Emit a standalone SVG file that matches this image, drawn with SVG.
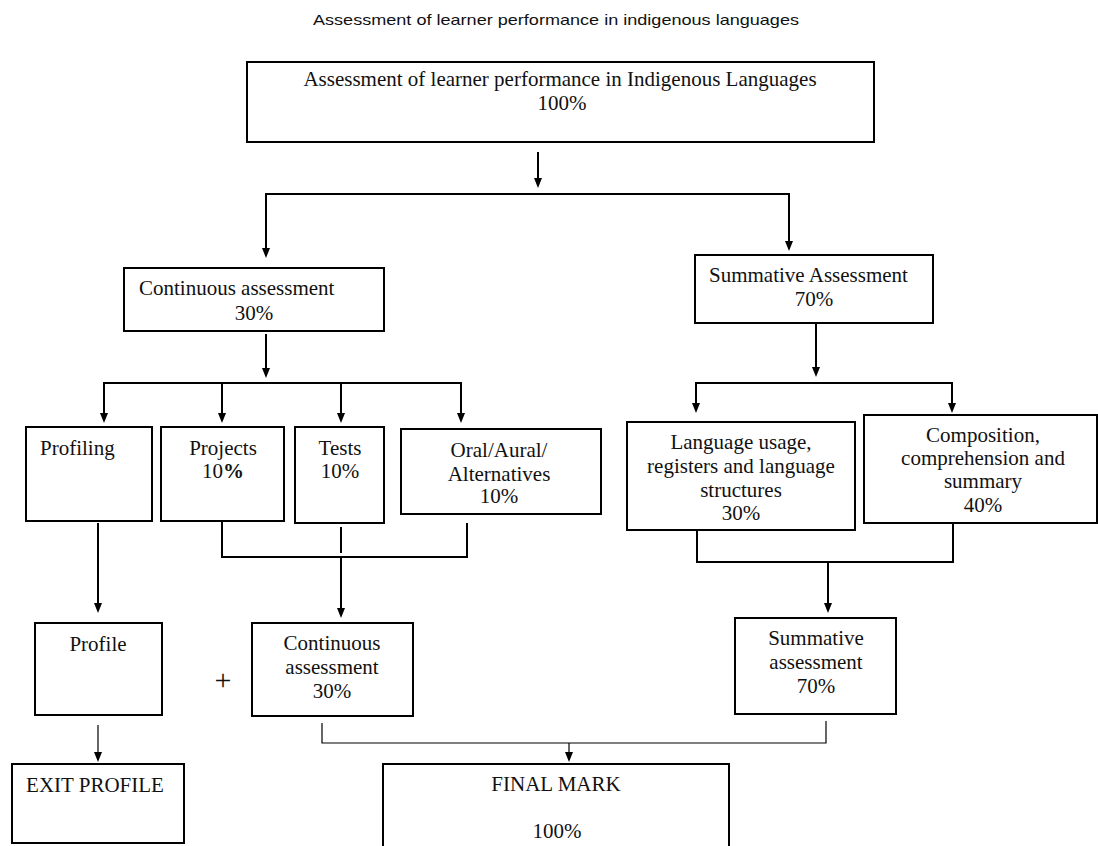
<svg xmlns="http://www.w3.org/2000/svg" width="1098" height="846" viewBox="0 0 1098 846">
<style>
.box{fill:#fff;stroke:#000;stroke-width:2}
.t{font-family:"Liberation Serif","Times New Roman",serif;font-size:21px;fill:#111}
.c{text-anchor:middle}
.ln{fill:none;stroke:#000;stroke-width:2}
.thin{fill:none;stroke:#000;stroke-width:1.2}
.title{font-family:"Liberation Sans",Arial,sans-serif;font-size:15px;fill:#111;text-anchor:middle}
</style>
<defs>
<marker id="ah" viewBox="0 0 10 8" refX="4" refY="4" markerWidth="10" markerHeight="8" markerUnits="userSpaceOnUse" orient="auto">
<path d="M0,0 L10,4 L0,8 z" fill="#000"/>
</marker>
</defs>
<rect width="1098" height="846" fill="#fff"/>
<text class="title" x="556" y="25" textLength="486" lengthAdjust="spacingAndGlyphs">Assessment of learner performance in indigenous languages</text>

<g id="connectors">
<line class="ln" x1="538" y1="152" x2="538" y2="182" marker-end="url(#ah)"/>
<polyline class="ln" points="266,252 266,194 789,194 789,245"/>
<line class="ln" x1="266" y1="240" x2="266" y2="252" marker-end="url(#ah)"/>
<line class="ln" x1="789" y1="233" x2="789" y2="245" marker-end="url(#ah)"/>
<line class="ln" x1="266" y1="334" x2="266" y2="372" marker-end="url(#ah)"/>
<polyline class="ln" points="104,417 104,383 461,383 461,417"/>
<line class="ln" x1="104" y1="400" x2="104" y2="417" marker-end="url(#ah)"/>
<line class="ln" x1="222" y1="383" x2="222" y2="417" marker-end="url(#ah)"/>
<line class="ln" x1="341" y1="383" x2="341" y2="417" marker-end="url(#ah)"/>
<line class="ln" x1="461" y1="400" x2="461" y2="417" marker-end="url(#ah)"/>
<line class="ln" x1="816" y1="323" x2="816" y2="371" marker-end="url(#ah)"/>
<polyline class="ln" points="696,407 696,383 952,383 952,407"/>
<line class="ln" x1="696" y1="395" x2="696" y2="407" marker-end="url(#ah)"/>
<line class="ln" x1="952" y1="395" x2="952" y2="407" marker-end="url(#ah)"/>
<line class="ln" x1="98" y1="523" x2="98" y2="607" marker-end="url(#ah)"/>
<polyline class="ln" points="222,521 222,557 467,557 467,523"/>
<line class="ln" x1="341" y1="527" x2="341" y2="553"/>
<line class="ln" x1="341" y1="557" x2="341" y2="612" marker-end="url(#ah)"/>
<polyline class="ln" points="697,530 697,562 953,562 953,518"/>
<line class="ln" x1="828" y1="562" x2="828" y2="607" marker-end="url(#ah)"/>
<line class="thin" x1="98" y1="725" x2="98" y2="756" marker-end="url(#ah)"/>
<polyline class="thin" points="322,723 322,743 826,743 826,721"/>
<line class="thin" x1="569" y1="743" x2="569" y2="756" marker-end="url(#ah)"/>
</g>

<g id="top">
<rect class="box" x="247" y="62" width="627" height="80"/>
<text class="t c" x="560" y="86">Assessment of learner performance in Indigenous Languages</text>
<text class="t c" x="562" y="110">100%</text>
</g>
<g id="ca">
<rect class="box" x="124" y="268" width="260" height="63"/>
<text class="t" x="139" y="295">Continuous assessment</text>
<text class="t c" x="254" y="320">30%</text>
</g>
<g id="sa">
<rect class="box" x="695" y="255" width="238" height="68"/>
<text class="t" x="709" y="282">Summative Assessment</text>
<text class="t c" x="814" y="306">70%</text>
</g>
<g id="profiling">
<rect class="box" x="26" y="427" width="126" height="94"/>
<text class="t" x="40" y="455">Profiling</text>
</g>
<g id="projects">
<rect class="box" x="161" y="427" width="123" height="94"/>
<text class="t c" x="223" y="455">Projects</text>
<text class="t c" x="223" y="478">10<tspan font-weight="bold">%</tspan></text>
</g>
<g id="tests">
<rect class="box" x="295" y="427" width="89" height="96"/>
<text class="t c" x="340" y="455">Tests</text>
<text class="t c" x="340" y="478">10%</text>
</g>
<g id="oral">
<rect class="box" x="401" y="429" width="200" height="85"/>
<text class="t c" x="499" y="457">Oral/Aural/</text>
<text class="t c" x="499" y="481">Alternatives</text>
<text class="t c" x="499" y="503">10%</text>
</g>
<g id="lang">
<rect class="box" x="627" y="422" width="228" height="108"/>
<text class="t c" x="741" y="449">Language usage,</text>
<text class="t c" x="741" y="473">registers and language</text>
<text class="t c" x="741" y="497">structures</text>
<text class="t c" x="741" y="520">30%</text>
</g>
<g id="comp">
<rect class="box" x="864" y="415" width="233" height="108"/>
<text class="t c" x="983" y="442">Composition,</text>
<text class="t c" x="983" y="465">comprehension and</text>
<text class="t c" x="983" y="488">summary</text>
<text class="t c" x="983" y="512">40%</text>
</g>
<g id="profile">
<rect class="box" x="35" y="623" width="127" height="92"/>
<text class="t c" x="98" y="651">Profile</text>
</g>
<g id="plus">
<text class="t c" x="223" y="690" style="font-size:30px">+</text>
</g>
<g id="ca2">
<rect class="box" x="252" y="623" width="161" height="93"/>
<line x1="254.5" y1="655" x2="254.5" y2="706" stroke="#fff" stroke-width="1"/>
<text class="t c" x="332" y="650">Continuous</text>
<text class="t c" x="332" y="674">assessment</text>
<text class="t c" x="332" y="698">30%</text>
</g>
<g id="sa2">
<rect class="box" x="735" y="618" width="161" height="96"/>
<text class="t c" x="816" y="645">Summative</text>
<text class="t c" x="816" y="669">assessment</text>
<text class="t c" x="816" y="693">70%</text>
</g>
<g id="exit">
<rect class="box" x="12" y="764" width="172" height="79"/>
<text class="t c" x="95" y="792">EXIT PROFILE</text>
</g>
<g id="final">
<rect class="box" x="383" y="764" width="346" height="84"/>
<text class="t c" x="556" y="791">FINAL MARK</text>
<text class="t c" x="557" y="838">100%</text>
</g>
</svg>
